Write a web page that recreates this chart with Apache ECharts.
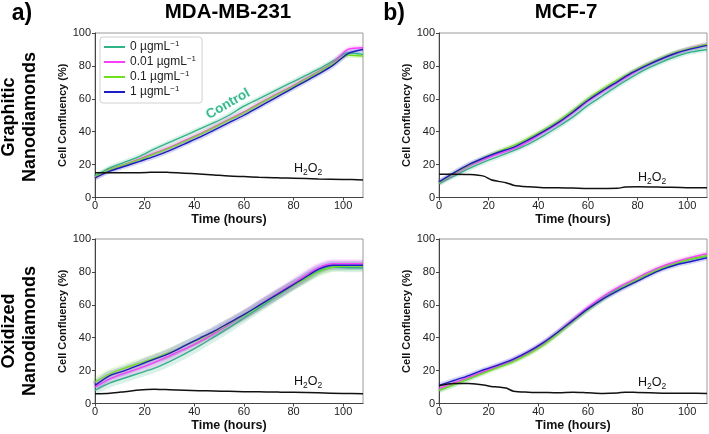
<!DOCTYPE html>
<html>
<head>
<meta charset="utf-8">
<script src="https://cdn.jsdelivr.net/npm/echarts@6/dist/echarts.min.js"></script>
<style>html,body{margin:0;padding:0;background:#fff}#c{width:709px;height:434px}</style>
</head>
<body>
<div id="c"></div>
<script>
// ---- data ----
const T = [0, 6, 12, 18, 24, 30, 36, 42, 48, 54, 60, 66, 72, 78, 84, 90, 96, 102, 108];
const TH = [0, 6, 12, 18, 21, 24, 27, 30, 36, 42, 48, 54, 60, 66, 72, 75, 80, 90, 100, 108];
const doses = ['0', '0.01', '0.1', '1'];
const xTicks = [0, 20, 40, 60, 80, 100];
const yTicks = [0, 20, 40, 60, 80, 100];
const columnTitles = ['MDA-MB-231', 'MCF-7'];
const rowTitles = ['Graphitic\nNanodiamonds', 'Oxidized\nNanodiamonds'];

// MDA-MB-231, graphitic
const mdaG_0    = [13, 18, 21.5, 25, 29.5, 33.5, 37.5, 41.5, 45.5, 50, 55.5, 60, 64.5, 69, 73.5, 78, 83, 88, 87];
const mdaG_001  = [12, 17, 20, 23.5, 27, 30.5, 34.5, 38.5, 43, 47.5, 52, 57, 62, 66.5, 71.5, 76.5, 82, 90, 91];
const mdaG_01   = [12.5, 17, 20, 23, 26.5, 30, 34, 38, 42.5, 47, 51.5, 56.5, 61.5, 66, 71, 76, 81.5, 86.5, 86];
const mdaG_1    = [12, 16, 19, 22, 25, 28.5, 32.5, 36.5, 41, 45.5, 50, 55, 60, 65, 70, 75, 80.5, 87.5, 90];
const mdaG_H2O2 = [15, 15, 15, 15.1, 15.2, 15.4, 15.4, 15.2, 14.8, 14.3, 13.7, 13.1, 12.7, 12.3, 12, 11.9, 11.7, 11.3, 11, 10.7];

// MCF-7, graphitic
const mcfG_0    = [8.5, 13, 17.5, 21.5, 25, 28.5, 32.5, 37.5, 43, 49, 56, 62, 68, 73.5, 78.5, 82.5, 86, 88.5, 90];
const mcfG_001  = [9, 14, 19, 23, 26.5, 29.5, 34, 39.5, 45, 51.5, 58.5, 64.5, 70, 75.5, 80.5, 84.5, 88, 91, 93];
const mcfG_01   = [9, 14.5, 19.5, 24, 28, 31.5, 36, 41, 46.5, 53, 60, 66, 71.5, 76.5, 81, 85, 88.5, 91, 93];
const mcfG_1    = [9.5, 15, 20, 24, 27.5, 30.5, 35, 40, 45.5, 52, 59, 65, 70.5, 76, 80.5, 84.5, 88, 90.5, 92.5];
const mcfG_H2O2 = [14.2, 14.2, 14, 13, 10.8, 9.8, 9, 7.5, 6.5, 6, 6, 5.8, 5.5, 5.5, 5.6, 6.4, 6.5, 6.3, 6, 6];

// MDA-MB-231, oxidized
const mdaO_0    = [8, 12.5, 15.5, 18.5, 21.5, 25.5, 30, 35, 40.5, 46, 52, 58, 64, 70, 75.5, 80.5, 83, 82.5, 82.5];
const mdaO_001  = [10, 15, 18.5, 21.5, 25, 29, 33, 37.5, 42.5, 48, 53.5, 59.5, 65.5, 71, 77, 82.5, 85, 85, 85];
const mdaO_01   = [13, 18, 21.5, 24.5, 27.5, 31, 35, 39, 43.5, 48.5, 53.5, 59, 64.5, 70, 75, 80, 83, 83.5, 83.5];
const mdaO_1    = [11, 17, 20, 23.5, 27, 30.5, 35, 39.5, 44, 49, 54, 59.5, 65, 70.5, 76, 81.5, 84, 84, 84];
const mdaO_H2O2 = [6, 6.3, 7.2, 8.2, 8.5, 8.6, 8.5, 8.4, 8.1, 7.8, 7.6, 7.4, 7.2, 7.1, 7, 6.9, 6.8, 6.5, 6.1, 5.9];

// MCF-7, oxidized
const mcfO_0    = [8, 11.5, 15, 19, 22.5, 26, 30.5, 36, 43, 50.5, 57.5, 64, 69.5, 74, 78.5, 82.5, 85.5, 88, 89.5];
const mcfO_001  = [9, 12.5, 16, 19.5, 23, 26.5, 31, 36.5, 43.5, 51, 58.5, 65, 70.5, 75, 79.5, 83.5, 86.5, 89, 91];
const mcfO_01   = [8, 11.5, 15, 18.5, 22, 25.5, 30, 35.5, 42.5, 50, 57, 63.5, 69, 74, 78.5, 82.5, 85.5, 88, 90];
const mcfO_1    = [11, 14, 17, 20.5, 23.5, 27, 31.5, 37, 43.5, 50.5, 57.5, 63.5, 68.5, 73, 77.5, 81.5, 84.5, 86.5, 88.5];
const mcfO_H2O2 = [10.8, 12.2, 12.1, 11.3, 10.4, 10, 9.4, 7.5, 6.9, 6.7, 6.5, 6.9, 6.5, 6.1, 6.4, 6.9, 6.7, 6.3, 6.2, 6.1];

// ---- layout / style ----
const FONT = 'Liberation Sans, Arial, sans-serif';
const colors = ['#2fb486', '#ff3dff', '#6fe01a', '#1c1cc8'];
const panels = [
  {left: 95, top: 33, sets: [mdaG_0, mdaG_001, mdaG_01, mdaG_1], h2o2: mdaG_H2O2, band: 5},
  {left: 439, top: 33, sets: [mcfG_0, mcfG_001, mcfG_01, mcfG_1], h2o2: mcfG_H2O2, band: 5},
  {left: 95, top: 239, sets: [mdaO_0, mdaO_001, mdaO_01, mdaO_1], h2o2: mdaO_H2O2, band: 9},
  {left: 439, top: 239, sets: [mcfO_0, mcfO_001, mcfO_01, mcfO_1], h2o2: mcfO_H2O2, band: 5}
];
const pW = 268, pH = 164.5;

const zip = (xs, ys) => xs.map((x, i) => [x, ys[i]]);

const grid = [], xAxis = [], yAxis = [], series = [];
panels.forEach((p, gi) => {
  grid.push({left: p.left, top: p.top, width: pW, height: pH, show: true, borderColor: '#9a9a9a', borderWidth: 1, backgroundColor: 'transparent'});
  xAxis.push({
    type: 'value', gridIndex: gi, min: 0, max: 108,
    name: 'Time (hours)', nameLocation: 'middle', nameGap: 16,
    nameTextStyle: {fontFamily: FONT, fontWeight: 'bold', fontSize: 12.5, color: '#111'},
    axisLine: {show: true, onZero: false, lineStyle: {color: '#444', width: 1}},
    axisTick: {show: true, length: 3, customValues: xTicks, lineStyle: {color: '#444'}},
    axisLabel: {customValues: xTicks, fontFamily: FONT, fontSize: 11, color: '#222', margin: 3},
    splitLine: {show: false}
  });
  yAxis.push({
    type: 'value', gridIndex: gi, min: 0, max: 100, interval: 20,
    name: 'Cell Confluency (%)', nameLocation: 'middle', nameGap: 27,
    nameTextStyle: {fontFamily: FONT, fontWeight: 'bold', fontSize: 11, color: '#111'},
    axisLine: {show: true, onZero: false, lineStyle: {color: '#444', width: 1}},
    axisTick: {show: true, length: 3, customValues: yTicks, lineStyle: {color: '#444'}},
    axisLabel: {customValues: yTicks, fontFamily: FONT, fontSize: 11, color: '#222', margin: 4},
    splitLine: {show: false}
  });
  // confidence bands (wide translucent lines)
  p.sets.forEach((vals, k) => {
    series.push({
      type: 'line', name: 'band' + gi + k, xAxisIndex: gi, yAxisIndex: gi,
      data: zip(T, vals), smooth: 0.3, showSymbol: false, silent: true,
      lineStyle: {color: colors[k], width: p.band, opacity: 0.18}, z: 1
    });
  });
  p.sets.forEach((vals, k) => {
    series.push({
      type: 'line', name: doses[k], xAxisIndex: gi, yAxisIndex: gi,
      data: zip(T, vals), smooth: 0.3, showSymbol: false,
      lineStyle: {color: colors[k], width: 1.4}, itemStyle: {color: colors[k]}, z: 3
    });
  });
  series.push({
    type: 'line', name: 'H2O2', xAxisIndex: gi, yAxisIndex: gi,
    data: zip(TH, p.h2o2), smooth: 0.3, showSymbol: false,
    lineStyle: {color: '#111', width: 1.5}, z: 4
  });
});

const h2o2Text = (x, y) => ({
  type: 'text', x: x, y: y,
  style: {
    text: '{n|H}{s|2}{n|O}{s|2}', align: 'center', verticalAlign: 'middle',
    rich: {n: {fontFamily: FONT, fontSize: 12.5, fill: '#111', lineHeight: 16, verticalAlign: 'middle'},
           s: {fontFamily: FONT, fontSize: 8.5, fill: '#111', lineHeight: 16, verticalAlign: 'bottom', padding: [6, 0, 0, 0]}}
  }
});

const titleText = (txt, x, y, size) => ({
  type: 'text', x: x, y: y,
  style: {text: txt, font: 'bold ' + size + 'px ' + FONT, fill: '#000', align: 'center', verticalAlign: 'middle'}
});

const rowText = (txt, x, y) => ({
  type: 'text', x: x, y: y, rotation: Math.PI / 2,
  style: {text: txt, font: 'bold 18px ' + FONT, fill: '#000', align: 'center', verticalAlign: 'middle', lineHeight: 21}
});

const option = {
  animation: false,
  backgroundColor: '#fff',
  grid, xAxis, yAxis, series,
  legend: {
    data: doses, orient: 'vertical', left: 100, top: 37,
    padding: [3, 6, 5, 4], itemGap: 2, itemWidth: 21, itemHeight: 2, icon: 'rect',
    borderColor: '#d0d0d0', borderWidth: 1, borderRadius: 3, backgroundColor: 'rgba(255,255,255,0.85)',
    selectedMode: false,
    formatter: n => '{b|' + n + ' µgmL}{s|\u22121}',
    textStyle: {
      fontFamily: FONT, fontSize: 12, color: '#222',
      rich: {b: {fontFamily: FONT, fontSize: 12, color: '#222', lineHeight: 14},
             s: {fontFamily: FONT, fontSize: 8, color: '#222', lineHeight: 14, verticalAlign: 'top', padding: [0, 0, 5, 0]}}
    }
  },
  graphic: [
    titleText('a)', 22, 14, 23),
    titleText(columnTitles[0], 228, 12, 20.5),
    titleText('b)', 394, 14, 23),
    titleText(columnTitles[1], 566, 12, 20.5),
    rowText(rowTitles[0], 20, 117),
    rowText(rowTitles[1], 20, 331),
    h2o2Text(308, 169),
    h2o2Text(652, 178),
    h2o2Text(308, 382),
    h2o2Text(652, 383),
    {type: 'text', x: 228, y: 104, rotation: 0.52,
     style: {text: 'Control', font: 'bold 13.5px ' + FONT, fill: '#2fc08a', align: 'center', verticalAlign: 'middle'}}
  ]
};

echarts.init(document.getElementById('c'), null, {renderer: 'canvas'}).setOption(option);
</script>
</body>
</html>
